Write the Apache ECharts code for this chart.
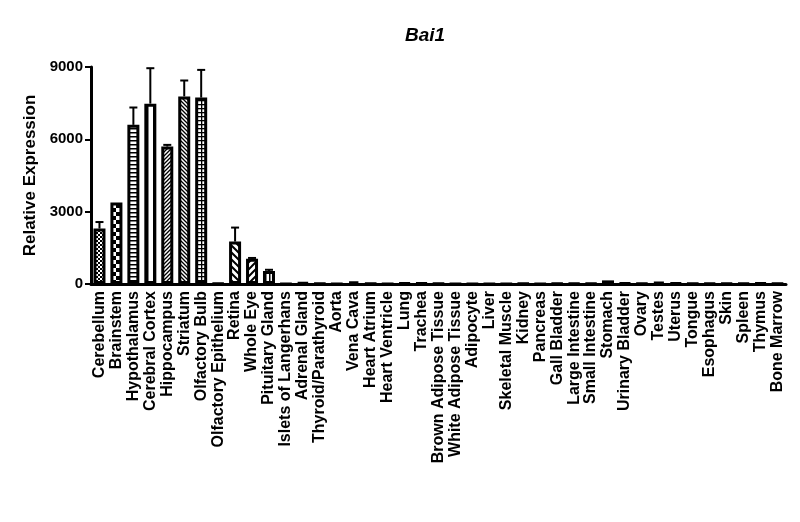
<!DOCTYPE html>
<html>
<head>
<meta charset="utf-8">
<title>Bai1</title>
<script src="https://cdn.jsdelivr.net/npm/echarts@6/dist/echarts.min.js"></script>
<style>
    html, body { margin: 0; padding: 0; background: #fff; }
    #chart { width: 800px; height: 522px; }
</style>
</head>
<body>
<div id="chart"></div>
<script>
// Data
const categories = ['Cerebellum', 'Brainstem', 'Hypothalamus', 'Cerebral Cortex', 'Hippocampus',
    'Striatum', 'Olfactory Bulb', 'Olfactory Epithelium', 'Retina', 'Whole Eye', 'Pituitary Gland',
    'Islets of Langerhans', 'Adrenal Gland', 'Thyroid/Parathyroid', 'Aorta', 'Vena Cava',
    'Heart Atrium', 'Heart Ventricle', 'Lung', 'Trachea', 'Brown Adipose Tissue',
    'White Adipose Tissue', 'Adipocyte', 'Liver', 'Skeletal Muscle', 'Kidney', 'Pancreas',
    'Gall Bladder', 'Large Intestine', 'Small Intestine', 'Stomach', 'Urinary Bladder', 'Ovary',
    'Testes', 'Uterus', 'Tongue', 'Esophagus', 'Skin', 'Spleen', 'Thymus', 'Bone Marrow'];

const expression = [2300, 3380, 6600, 7480, 5700, 7780, 7730, 20, 1760, 1050, 540,
    10, 60, 15, 10, 110, 15, 10, 40, 35, 15, 10, 10, 10, 10, 15, 10, 20, 30, 25,
    150, 40, 20, 80, 40, 15, 30, 30, 30, 40, 15];

const errorUp = [270, 0, 720, 1470, 70, 660, 1150, 0, 580, 30, 50,
    0, 0, 0, 0, 0, 0, 0, 0, 0, 0, 0, 0, 0, 0, 0, 0, 0, 0, 0,
    0, 0, 0, 0, 0, 0, 0, 0, 0, 0, 0];

const yTicks = { min: 0, max: 9000, interval: 3000 };

// Fill patterns (one per bar, the rest plain white)
function makeTile(w, h, draw) {
    const c = document.createElement('canvas');
    c.width = w;
    c.height = h;
    const ctx = c.getContext('2d');
    ctx.fillStyle = '#fff';
    ctx.fillRect(0, 0, w, h);
    ctx.fillStyle = '#000';
    ctx.strokeStyle = '#000';
    draw(ctx, w, h);
    return { image: c, repeat: 'repeat' };
}

function diag(n, width, forward) {
    return makeTile(n, n, function (ctx) {
        ctx.lineWidth = width;
        ctx.beginPath();
        if (forward) {
            ctx.moveTo(-1, n + 1); ctx.lineTo(n + 1, -1);
            ctx.moveTo(-1, 1); ctx.lineTo(1, -1);
            ctx.moveTo(n - 1, n + 1); ctx.lineTo(n + 1, n - 1);
        } else {
            ctx.moveTo(-1, -1); ctx.lineTo(n + 1, n + 1);
            ctx.moveTo(n - 1, -1); ctx.lineTo(n + 1, 1);
            ctx.moveTo(-1, n - 1); ctx.lineTo(1, n + 1);
        }
        ctx.stroke();
    });
}

const patterns = {
    fineChecker: makeTile(4, 4, function (ctx) {
        ctx.fillRect(0, 0, 2, 2);
        ctx.fillRect(2, 2, 2, 2);
    }),
    checker: makeTile(8, 8, function (ctx) {
        ctx.fillRect(0, 0, 4, 4);
        ctx.fillRect(4, 4, 4, 4);
    }),
    hLines: makeTile(4, 4, function (ctx) {
        ctx.fillRect(0, 0, 4, 1.5);
    }),
    vLinesWide: makeTile(6, 4, function (ctx) {
        ctx.fillRect(3, 0, 1.5, 4);
    }),
    diagFwdDense: diag(4, 1.3, true),
    diagBackDense: diag(4, 1.3, false),
    grid: makeTile(6, 4, function (ctx) {
        ctx.fillRect(0, 0, 6, 1.3);
        ctx.fillRect(3, 0, 1.3, 4);
    }),
    diagBackWide: diag(7, 2, false),
    diagFwdWide: diag(7, 2, true),
    vLines: makeTile(4, 4, function (ctx) {
        ctx.fillRect(1, 0, 1.5, 4);
    })
};

const barPatterns = ['fineChecker', 'checker', 'hLines', 'vLinesWide', 'diagFwdDense',
    'diagBackDense', 'grid', null, 'diagBackWide', 'diagFwdWide', 'vLines'];

const fontFamily = 'Liberation Sans, Arial, sans-serif';

const chart = echarts.init(document.getElementById('chart'));

const option = {
    animation: false,
    title: {
        text: 'Bai1',
        left: 420,
        top: 21,
        textAlign: 'center',
        textStyle: {
            fontFamily: fontFamily,
            fontSize: 19,
            fontWeight: 'bold',
            fontStyle: 'italic',
            color: '#000'
        }
    },
    grid: {
        left: 91,
        right: 14,
        top: 67,
        bottom: 238
    },
    xAxis: {
        type: 'category',
        data: categories,
        axisLine: { lineStyle: { color: '#000', width: 3 } },
        axisTick: { alignWithLabel: true, length: 5, lineStyle: { color: '#000', width: 2 } },
        axisLabel: {
            interval: 0,
            rotate: 90,
            margin: 7,
            color: '#000',
            fontFamily: fontFamily,
            fontSize: 16,
            fontWeight: 'bold'
        }
    },
    yAxis: {
        type: 'value',
        min: yTicks.min,
        max: yTicks.max,
        interval: yTicks.interval,
        name: 'Relative Expression',
        nameLocation: 'middle',
        nameGap: 47,
        nameRotate: 90,
        nameTextStyle: {
            color: '#000',
            fontFamily: fontFamily,
            fontSize: 17,
            fontWeight: 'bold'
        },
        axisLine: { show: true, lineStyle: { color: '#000', width: 3 } },
        axisTick: { show: true, length: 6, lineStyle: { color: '#000', width: 2 } },
        splitLine: { show: false },
        axisLabel: {
            margin: 8,
            color: '#000',
            fontFamily: fontFamily,
            fontSize: 15,
            fontWeight: 'bold',
            formatter: function (v) { return String(v); }
        }
    },
    series: [{
        name: 'Bars',
        type: 'bar',
        barWidth: 12,
        data: expression.map(function (v, i) {
            const p = barPatterns[i] ? patterns[barPatterns[i]] : '#fff';
            return { value: v, itemStyle: { color: p } };
        }),
        itemStyle: { borderColor: '#000', borderWidth: 3 }
    }, {
        name: 'Error',
        type: 'custom',
        data: expression.map(function (v, i) { return [i, v, v + errorUp[i]]; }),
        z: 1,
        renderItem: function (params, api) {
            const idx = api.value(0);
            if (errorUp[idx] <= 0) return null;
            const low = api.coord([idx, api.value(1)]);
            const high = api.coord([idx, api.value(2)]);
            const half = 4;
            return {
                type: 'group',
                children: [{
                    type: 'line',
                    shape: { x1: low[0], y1: low[1], x2: high[0], y2: high[1] },
                    style: { stroke: '#000', lineWidth: 2 }
                }, {
                    type: 'line',
                    shape: { x1: high[0] - half, y1: high[1], x2: high[0] + half, y2: high[1] },
                    style: { stroke: '#000', lineWidth: 2 }
                }]
            };
        }
    }]
};

chart.setOption(option);
</script>
</body>
</html>
